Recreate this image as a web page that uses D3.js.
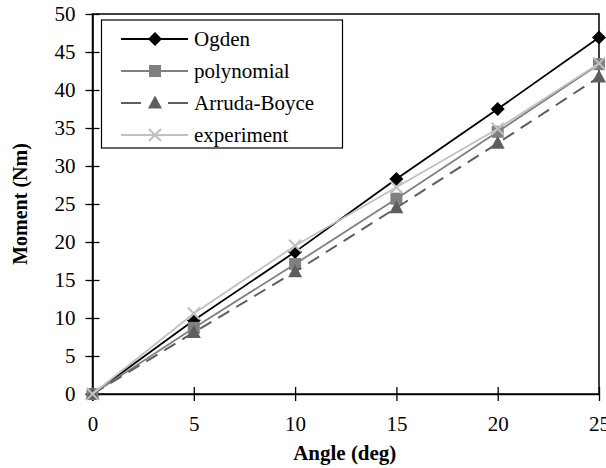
<!DOCTYPE html>
<html>
<head>
<meta charset="utf-8">
<script src="https://cdn.jsdelivr.net/npm/d3@7"></script>
<style>
  html, body { margin: 0; padding: 0; background: #fff; }
  svg { display: block; }
  text { font-family: "Liberation Serif", "Times New Roman", serif; fill: #000; }
</style>
</head>
<body>
<svg id="chart" width="606" height="468"></svg>
<script>
// Moment versus rotation angle for three hyperelastic models and the test data
const angles = [0, 5, 10, 15, 20, 25];
const ogden = [0, 9.7, 18.7, 28.3, 37.5, 46.9];
const polynomial = [0, 8.7, 17.1, 25.7, 34.5, 43.4];
const arrudaBoyce = [0, 8.1, 16.1, 24.5, 33.0, 41.7];
const experiment = [0, 10.6, 19.5, 27.2, 34.9, 43.5];

const seriesNames = ["Ogden", "polynomial", "Arruda-Boyce", "experiment"];
const xTicks = [0, 5, 10, 15, 20, 25];
const yTicks = [0, 5, 10, 15, 20, 25, 30, 35, 40, 45, 50];

const series = [
  { name: seriesNames[0], values: ogden, color: "#000000", marker: "diamond", dash: null, width: 1.8 },
  { name: seriesNames[1], values: polynomial, color: "#808080", marker: "square", dash: null, width: 1.8 },
  { name: seriesNames[2], values: arrudaBoyce, color: "#5e5e5e", marker: "triangle", dash: "13,8", width: 2 },
  { name: seriesNames[3], values: experiment, color: "#c0c0c0", marker: "cross", dash: null, width: 1.8 }
];

const svg = d3.select("#chart");
const plotLeft = 92.5, plotRight = 599, plotTop = 14, plotBottom = 394;

const x = d3.scaleLinear().domain([0, 25]).range([plotLeft, plotRight]);
const y = d3.scaleLinear().domain([0, 50]).range([plotBottom, plotTop]);

// frame around the plotting area
svg.append("rect")
  .attr("x", plotLeft).attr("y", plotTop)
  .attr("width", plotRight - plotLeft).attr("height", plotBottom - plotTop)
  .attr("fill", "none").attr("stroke", "#000").attr("stroke-width", 1.5);

// axes with ticks crossing the axis line
const tickLen = 7;
const xAxis = svg.append("g").attr("transform", `translate(0,${plotBottom})`)
  .call(d3.axisBottom(x).tickValues(xTicks).tickSizeInner(tickLen).tickSizeOuter(0).tickPadding(15));
xAxis.select(".domain").attr("stroke-width", 1.5);
xAxis.selectAll(".tick line").attr("y1", -tickLen).attr("stroke-width", 1.3);
xAxis.selectAll(".tick text").attr("font-size", 21).attr("font-family", "Liberation Serif").attr("fill", "#000");

const yAxis = svg.append("g").attr("transform", `translate(${plotLeft},0)`)
  .call(d3.axisLeft(y).tickValues(yTicks).tickSizeInner(tickLen).tickSizeOuter(0).tickPadding(10));
yAxis.select(".domain").attr("stroke-width", 1.5);
yAxis.selectAll(".tick line").attr("x1", tickLen).attr("stroke-width", 1.3);
yAxis.selectAll(".tick text").attr("font-size", 21).attr("font-family", "Liberation Serif").attr("fill", "#000");

// axis titles
svg.append("text")
  .attr("x", (plotLeft + plotRight) / 2 - 1).attr("y", 460)
  .attr("text-anchor", "middle").attr("font-size", 21).attr("font-weight", "bold")
  .text("Angle (deg)");
svg.append("text")
  .attr("transform", `translate(27,${(plotTop + plotBottom) / 2}) rotate(-90)`)
  .attr("text-anchor", "middle").attr("font-size", 20).attr("font-weight", "bold")
  .text("Moment (Nm)");

function drawMarker(g, type, color, cx, cy) {
  if (type === "diamond") {
    g.append("path").attr("d", `M${cx},${cy - 7}L${cx + 7},${cy}L${cx},${cy + 7}L${cx - 7},${cy}Z`).attr("fill", color);
  } else if (type === "square") {
    g.append("rect").attr("x", cx - 6).attr("y", cy - 6).attr("width", 12).attr("height", 12).attr("fill", color);
  } else if (type === "triangle") {
    g.append("path").attr("d", `M${cx},${cy - 7.5}L${cx + 7},${cy + 5.5}L${cx - 7},${cy + 5.5}Z`).attr("fill", color);
  } else if (type === "cross") {
    g.append("path").attr("d", `M${cx - 6},${cy - 6}L${cx + 6},${cy + 6}M${cx - 6},${cy + 6}L${cx + 6},${cy - 6}`)
      .attr("stroke", color).attr("stroke-width", 2).attr("fill", "none");
  }
}

const line = d3.line().x((d, i) => x(angles[i])).y(d => y(d));

series.forEach(s => {
  const g = svg.append("g");
  g.append("path").datum(s.values)
    .attr("d", line)
    .attr("fill", "none").attr("stroke", s.color).attr("stroke-width", s.width)
    .attr("stroke-dasharray", s.dash);
  s.values.forEach((v, i) => drawMarker(g, s.marker, s.color, x(angles[i]), y(v)));
});

// legend
const legend = svg.append("g");
legend.append("rect")
  .attr("x", 101.5).attr("y", 20).attr("width", 241).attr("height", 128)
  .attr("fill", "#fff").attr("stroke", "#000").attr("stroke-width", 1.2);
series.forEach((s, i) => {
  const cy = 39 + i * 32;
  legend.append("line")
    .attr("x1", 121).attr("x2", 188).attr("y1", cy).attr("y2", cy)
    .attr("stroke", s.color).attr("stroke-width", s.width)
    .attr("stroke-dasharray", s.dash ? "20,27" : null);
  drawMarker(legend, s.marker, s.color, 155, cy);
  legend.append("text")
    .attr("x", 194).attr("y", cy + 7)
    .attr("font-size", 21)
    .text(s.name);
});
</script>
</body>
</html>
